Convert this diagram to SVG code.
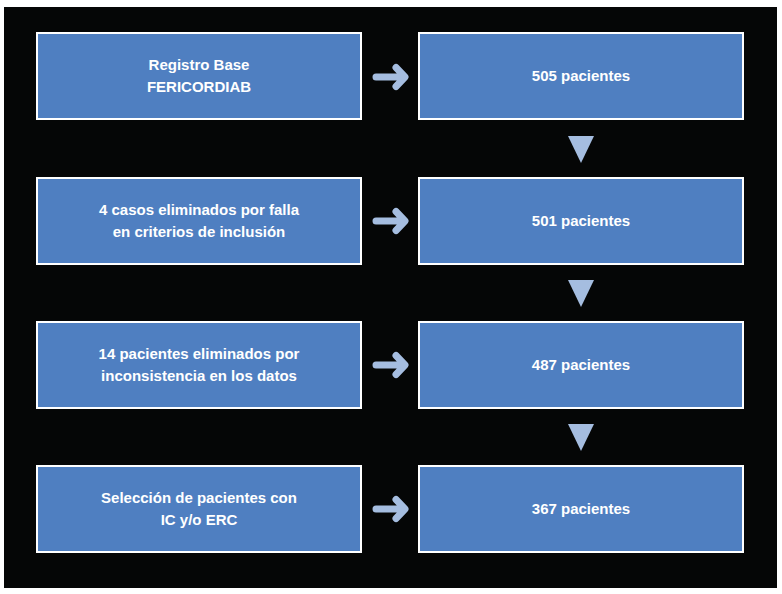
<svg xmlns="http://www.w3.org/2000/svg" width="782" height="594" viewBox="0 0 782 594">
<defs>
<style>
.box{fill:#4f7fc1;stroke:#ffffff;stroke-width:2}
.t{font-family:"Liberation Sans",Arial,sans-serif;font-size:15px;font-weight:bold;fill:#ffffff;text-anchor:middle}
.arr{fill:none;stroke:#a5bde0;stroke-width:7;stroke-linecap:round;stroke-linejoin:round}
.tri{fill:#a5bde0}
</style>
</defs>
<rect x="0" y="0" width="782" height="594" fill="#ffffff"/>
<rect x="4" y="7" width="773" height="581" fill="#050606"/>
<g id="n1"><rect class="box" x="37" y="33" width="324" height="86"/><text class="t" x="199" y="70">Registro Base</text><text class="t" x="199" y="92">FERICORDIAB</text></g>
<g id="n2"><rect class="box" x="419" y="33" width="324" height="86"/><text class="t" x="581" y="81">505 pacientes</text></g>
<g id="n3"><rect class="box" x="37" y="178" width="324" height="86"/><text class="t" x="199" y="215">4 casos eliminados por falla</text><text class="t" x="199" y="237">en criterios de inclusión</text></g>
<g id="n4"><rect class="box" x="419" y="178" width="324" height="86"/><text class="t" x="581" y="226">501 pacientes</text></g>
<g id="n5"><rect class="box" x="37" y="322" width="324" height="86"/><text class="t" x="199" y="359">14 pacientes eliminados por</text><text class="t" x="199" y="381">inconsistencia en los datos</text></g>
<g id="n6"><rect class="box" x="419" y="322" width="324" height="86"/><text class="t" x="581" y="370">487 pacientes</text></g>
<g id="n7"><rect class="box" x="37" y="466" width="324" height="86"/><text class="t" x="199" y="503">Selección de pacientes con</text><text class="t" x="199" y="525">IC y/o ERC</text></g>
<g id="n8"><rect class="box" x="419" y="466" width="324" height="86"/><text class="t" x="581" y="514">367 pacientes</text></g>
<g id="connectors">
<path class="arr" d="M376 77H402M396 67.5L405 77L396 86.5"/>
<path class="arr" d="M376 221H402M396 211.5L405 221L396 230.5"/>
<path class="arr" d="M376 365H402M396 355.5L405 365L396 374.5"/>
<path class="arr" d="M376 509H402M396 499.5L405 509L396 518.5"/>
<polygon class="tri" points="568,136 594,136 581,163"/>
<polygon class="tri" points="568,280 594,280 581,307"/>
<polygon class="tri" points="568,424 594,424 581,451"/>
</g>
</svg>
